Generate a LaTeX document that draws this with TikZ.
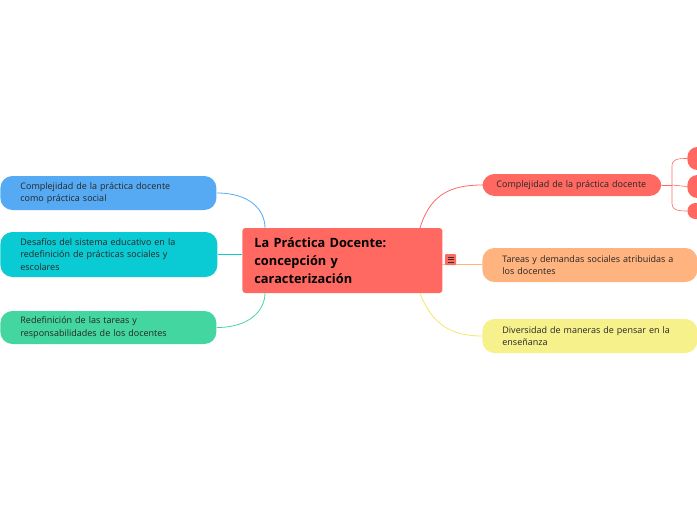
\documentclass[tikz,border=0pt]{standalone}
\usepackage{fontspec}
\setmainfont{Open Sans}
\definecolor{rootred}{HTML}{FF6961}
\definecolor{skyblue}{HTML}{56AAF4}
\definecolor{teal}{HTML}{0ACBD3}
\definecolor{mint}{HTML}{43D6A0}
\definecolor{peach}{HTML}{FFB37F}
\definecolor{lemon}{HTML}{F7F18C}
\definecolor{lemonline}{HTML}{F2E86A}
\tikzset{
root/.style={fill=rootred,rounded corners=3pt,anchor=west,align=left,
  inner xsep=12pt,text width=176pt,minimum height=65pt,
  font=\fontsize{12.8}{18}\selectfont\bfseries},
leaf/.style={rounded corners=12pt,anchor=west,align=left,inner xsep=20pt,
  font=\fontsize{9}{12.5}\selectfont,text=black!85},
knob/.style={fill=rootred,rounded corners=10pt,minimum width=30pt,anchor=west}
}
\begin{document}
\begin{tikzpicture}[x=1pt,y=-1pt,line width=0.8pt]
\useasboundingbox (0,0) rectangle (697,520);
\clip (0,0) rectangle (697,520);
% centre
\node[root] (root) at (242,260.5) {La Práctica Docente:\\concepción y\\caracterización};
% left side
\node[leaf,fill=skyblue,text width=176pt,minimum height=34pt] (social) at (0,193)
  {Complejidad de la práctica docente\\como práctica social};
\node[leaf,fill=teal,text width=177pt,minimum height=45pt] (desafios) at (0,254.5)
  {Desafíos del sistema educativo en la\\redefinición de prácticas sociales y\\escolares};
\node[leaf,fill=mint,text width=176pt,minimum height=33pt] (tareas) at (0,327.5)
  {Redefinición de las tareas y\\responsabilidades de los docentes};
% right side
\node[leaf,fill=rootred,inner xsep=14pt,text width=151pt,minimum height=22pt] (complejidad) at (482,185)
  {Complejidad de la práctica docente};
\node[leaf,fill=peach,text width=175pt,minimum height=34pt] (demandas) at (482,265)
  {Tareas y demandas sociales atribuidas a\\los docentes};
\node[leaf,fill=lemon,text width=175pt,minimum height=34pt] (diversidad) at (482,336)
  {Diversidad de maneras de pensar en la\\enseñanza};
% clipped children
\node[knob,minimum height=23pt] (k1) at (687,158.5) {};
\node[knob,minimum height=23pt] (k2) at (687,186.5) {};
\node[knob,minimum height=16pt,rounded corners=8pt] (k3) at (687,211) {};
% connectors
\draw[skyblue] (social.east) .. controls (250,193) and (265,210) .. (265,228);
\draw[teal] (desafios.east) -- (root.west |- desafios.east);
\draw[mint] (tareas.east) .. controls (250,327.5) and (265,310) .. (265,293);
\draw[rootred] (420,228) .. controls (430,195) and (450,185) .. (complejidad.west);
\draw[lemonline] (420,293) .. controls (432,325) and (452,336) .. (diversidad.west);
\draw[peach] (442,264) -- (demandas.west |- 0,264);
\draw[rootred,line width=0.6pt] (complejidad.east) -- (672,185) coordinate (fork);
\draw[rootred,line width=0.6pt] (fork) -- (k2.west);
\draw[rootred,line width=0.6pt] (fork) -- (672,166) .. controls (672,159) and (678,158.5) .. (k1.west);
\draw[rootred,line width=0.6pt] (fork) -- (672,204) .. controls (672,210) and (678,211) .. (k3.west);
% collapse icon
\node[fill=rootred,rounded corners=1pt,minimum size=11pt,inner sep=0pt] (icon) at (450.5,259.5) {};
\foreach \dy in {-2.5,0,2.5}
  \draw[line width=0.9pt,black!80] ([xshift=-3pt,yshift=\dy pt]icon.center) -- ([xshift=3pt,yshift=\dy pt]icon.center);
\end{tikzpicture}
\end{document}
